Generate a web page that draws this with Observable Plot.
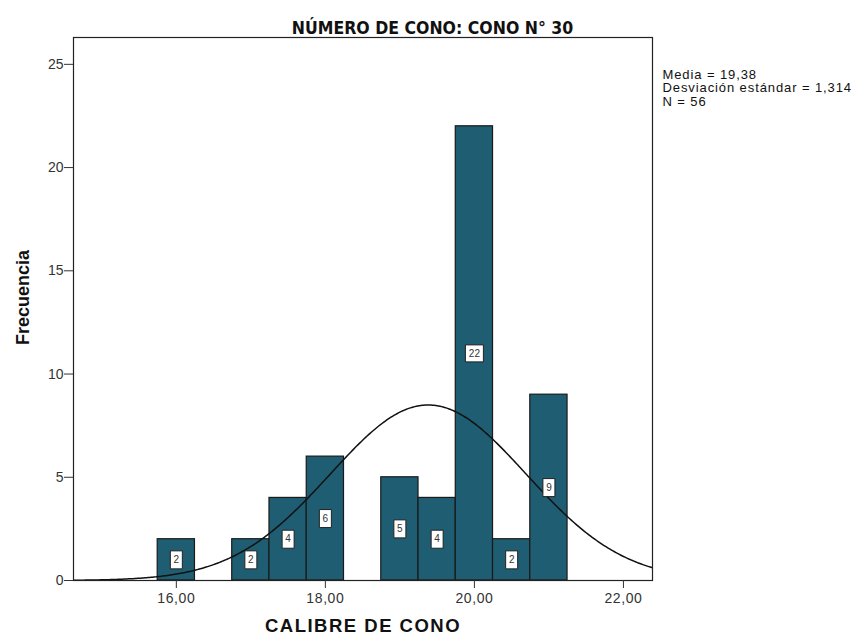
<!DOCTYPE html>
<html><head><meta charset="utf-8">
<script src="https://cdn.jsdelivr.net/npm/d3@7"></script>
<script src="https://cdn.jsdelivr.net/npm/@observablehq/plot@0.6"></script>
<style>
body{margin:0;background:#fff;}
#chart svg{display:block;}
</style>
</head><body><div id="chart"></div>
<script>
const title = "NÚMERO DE CONO: CONO N° 30";
const xLabel = "CALIBRE DE CONO";
const yLabel = "Frecuencia";
const binLo = [15.75, 16.75, 17.25, 17.75, 18.75, 19.25, 19.75, 20.25, 20.75];
const binHi = [16.25, 17.25, 17.75, 18.25, 19.25, 19.75, 20.25, 20.75, 21.25];
const counts = [2, 2, 4, 6, 5, 4, 22, 2, 9];
const mean = 19.38, sd = 1.314, n = 56, binWidth = 0.5;
const statLines = ["Media = 19,38", "Desviación estándar = 1,314", "N = 56"];
const xTicks = [16, 18, 20, 22];
const yTicks = [0, 5, 10, 15, 20, 25];
const xDomain = [14.62, 22.39];
const yDomain = [0, 26.3];

const bars = counts.map((c, i) => ({x1: binLo[i], x2: binHi[i], y: c}));
// fitted normal curve from the stated mean / sd / N
const curve = d3.range(xDomain[0], xDomain[1] + 0.001, 0.02).map(x => ({
  x, y: n * binWidth * Math.exp(-0.5 * ((x - mean) / sd) ** 2) / (sd * Math.sqrt(2 * Math.PI))
}));
const labels = bars.map(b => ({x: (b.x1 + b.x2) / 2, y: b.y / 2, t: String(b.y)}));
const box = (w, h) => ({draw(ctx){ ctx.rect(-w/2, -h/2, w, h); }});
const fmt = d => d.toFixed(2).replace(".", ",");

const chart = Plot.plot({
  width: 859, height: 641,
  marginTop: 37, marginLeft: 73, marginRight: 207, marginBottom: 61,
  style: {fontFamily: "'Liberation Sans', Arial, sans-serif", background: "#fff"},
  x: {domain: xDomain},
  y: {domain: yDomain},
  marks: [
    Plot.rectY(bars, {x1: "x1", x2: "x2", y: "y", fill: "#1f5d72", stroke: "#1a1a1a", strokeWidth: 1.2}),
    Plot.line(curve, {x: "x", y: "y", stroke: "#111", strokeWidth: 1.5, clip: true}),
    Plot.dot(labels.filter(d => d.t.length === 1), {x: "x", y: "y", symbol: box(12, 18), fill: "#fff", stroke: "#222", strokeWidth: 1}),
    Plot.dot(labels.filter(d => d.t.length > 1), {x: "x", y: "y", symbol: box(18, 17), fill: "#fff", stroke: "#222", strokeWidth: 1}),
    Plot.text(labels, {x: "x", y: "y", text: "t", fontSize: 10, fill: "#333"}),
    Plot.frame({stroke: "#222", strokeWidth: 1.2}),
    Plot.axisY({ticks: yTicks, tickSize: 9, tickFormat: d => String(d), fontSize: 14, color: "#333", tickPadding: 1, label: null}),
    Plot.axisX({ticks: xTicks, tickSize: 8, tickFormat: fmt, fontSize: 14, color: "#333", tickPadding: 5, label: null}),
    Plot.text([title], {frameAnchor: "top", dx: 69.5, dy: -15.5, text: d => d, fontSize: 17.5, fontWeight: "bold", fontFamily: "'Liberation Sans Narrow', 'DejaVu Sans Condensed', sans-serif", fill: "#111"}),
    ...statLines.map((t, i) => Plot.text([t], {frameAnchor: "top-right", dx: 10, dy: 32 + i * 13.5, textAnchor: "start", lineAnchor: "top", text: d => d, fontSize: 13, fill: "#111"})),
    Plot.text([xLabel], {frameAnchor: "bottom", dy: 51, text: d => d, fontSize: 18.5, fontWeight: "bold", fill: "#111"}),
    Plot.text([yLabel], {frameAnchor: "left", textAnchor: "middle", dx: -50, dy: -11.5, rotate: -90, text: d => d, fontSize: 18, fontWeight: "bold", fill: "#111"})
  ]
});
const spacing = (pred, v) => d3.select(chart).selectAll("text")
  .filter(function() { return pred(this.textContent); })
  .attr("letter-spacing", v).style("letter-spacing", v);
spacing(s => /^\d+,\d\d$/.test(s), "0.6px");
spacing(s => statLines.includes(s), "0.9px");
spacing(s => s === xLabel, "1.5px");
document.getElementById("chart").append(chart);
</script>
</body></html>
